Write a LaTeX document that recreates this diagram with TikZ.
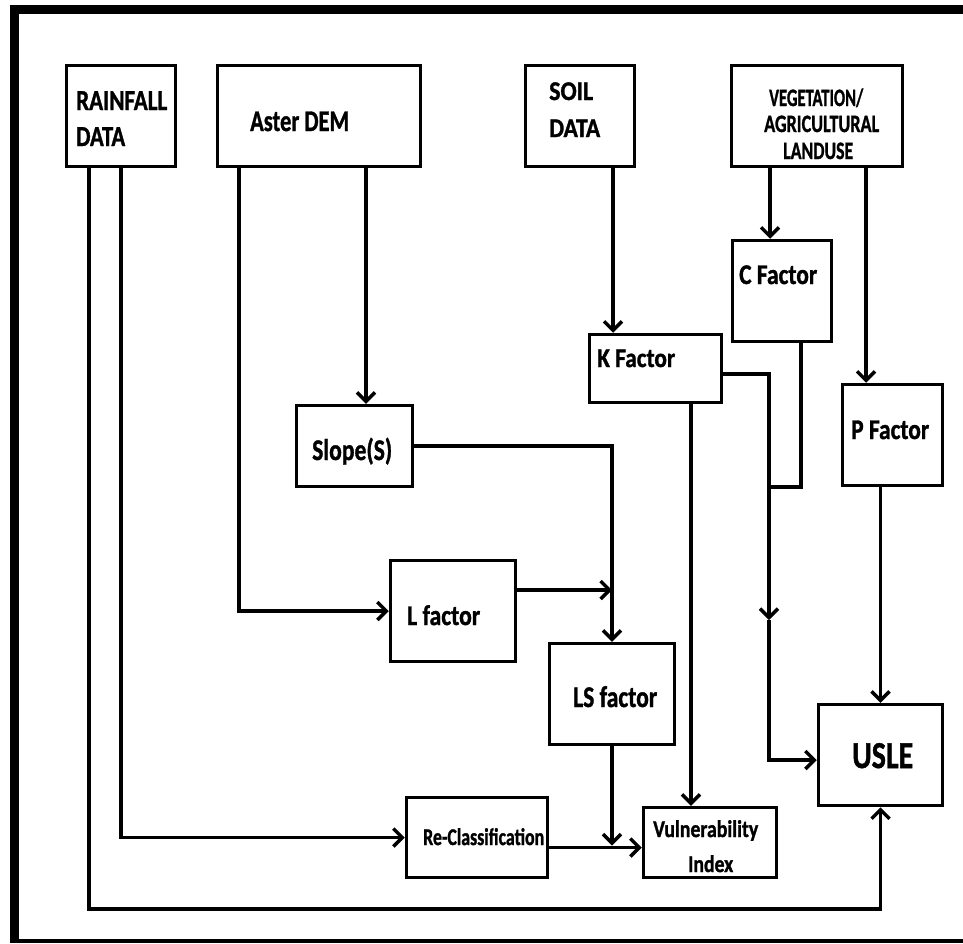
\documentclass[tikz,border=0pt]{standalone}
\usepackage{fontspec}
\setmainfont{Carlito}[BoldFeatures={FakeBold=1.3}]
\usepackage{graphicx}
\usetikzlibrary{arrows.meta}
\newcommand\tx[3]{\resizebox{#2pt}{\height}{\fontsize{#1pt}{#1pt}\selectfont\bfseries #3}}
\begin{document}
\begin{tikzpicture}[x=1pt,y=-1pt,
  box/.style={draw, line width=3.5pt, rectangle, inner sep=0pt},
  conn/.style={line width=3.5pt},
  arr/.style={line width=3.5pt, -{Straight Barb[length=9pt,width=18pt]}},
  lab/.style={inner sep=0pt, anchor=base west}]
\useasboundingbox (0,0) rectangle (963,943);
\fill[white] (0,0) rectangle (963,943);
% frame
\fill[black] (10,5) rectangle (963,14);
\fill[black] (10,5) rectangle (19,943);
\fill[black] (10,939) rectangle (963,943);
% boxes
\node[box, minimum width=109pt, minimum height=101pt] (rain) at (121,116) {};
\node[box, minimum width=203pt, minimum height=101pt] (dem) at (319,116) {};
\node[box, minimum width=109pt, minimum height=101pt] (soil) at (580,116) {};
\node[box, minimum width=171pt, minimum height=101pt] (veg) at (817,116) {};
\node[box, minimum width=99pt, minimum height=101pt] (cf) at (782,291) {};
\node[box, minimum width=132pt, minimum height=68pt] (kf) at (655.5,368.5) {};
\node[box, minimum width=100pt, minimum height=101pt] (pf) at (892.5,435) {};
\node[box, minimum width=116pt, minimum height=81pt] (slope) at (354.5,446) {};
\node[box, minimum width=125pt, minimum height=101pt] (lf) at (453,611) {};
\node[box, minimum width=125pt, minimum height=101pt] (ls) at (612,694) {};
\node[box, minimum width=124pt, minimum height=101pt] (usle) at (880.5,755) {};
\node[box, minimum width=141pt, minimum height=80pt] (rc) at (477,837.5) {};
\node[box, minimum width=133pt, minimum height=70pt] (vi) at (710,842.5) {};
% labels
\node[lab] (tRain1) at (76,110) {\tx{29}{91}{RAINFALL}};
\node[lab] (tRain2) at (76,146) {\tx{29}{49}{DATA}};
\node[lab] (tDem) at (250,131) {\tx{30}{99}{Aster DEM}};
\node[lab] (tSoil1) at (549,100) {\tx{27}{44}{SOIL}};
\node[lab] (tSoil2) at (549,137) {\tx{27}{51}{DATA}};
\node[lab] (tVeg1) at (769,106) {\tx{25}{94}{VEGETATION/}};
\node[lab] (tVeg2) at (764,132) {\tx{25}{115}{AGRICULTURAL}};
\node[lab] (tVeg3) at (783,159) {\tx{25}{70}{LANDUSE}};
\node[lab] (tC) at (739,284) {\tx{28.5}{78}{C Factor}};
\node[lab] (tK) at (597,367) {\tx{27}{78}{K Factor}};
\node[lab] (tS) at (312,460) {\tx{30}{80}{Slope(S)}};
\node[lab] (tL) at (407,625) {\tx{28.5}{73}{L factor}};
\node[lab] (tLS) at (573,707) {\tx{30}{84}{LS factor}};
\node[lab] (tP) at (851,439) {\tx{28.5}{78}{P Factor}};
\node[lab] (tU) at (852,768) {\tx{38}{61}{USLE}};
\node[lab] (tR) at (423,845) {\tx{24}{121}{Re-Classification}};
\node[lab] (tV1) at (653,837) {\tx{24}{105}{Vulnerability}};
\node[lab] (tV2) at (688,872) {\tx{24}{45}{Index}};
% helper coordinates
\coordinate (rB) at (89,909);
\coordinate (rL) at ([xshift=-32pt]rain.south);
\coordinate (dL) at ([xshift=-80pt]dem.south);
\coordinate (dR) at ([xshift=47pt]dem.south);
\coordinate (lE) at ([yshift=21pt]lf.east);
\coordinate (rcE) at ([yshift=-10pt]rc.east);
\coordinate (sB) at ([xshift=33pt]soil.south);
\coordinate (vL) at ([xshift=-47pt]veg.south);
\coordinate (vR) at ([xshift=49pt]veg.south);
\coordinate (kE) at ([yshift=-5.5pt]kf.east);
\coordinate (kB) at ([xshift=35.5pt]kf.south);
\coordinate (cB) at ([xshift=19pt]cf.south);
\coordinate (kx) at (769,487);
\coordinate (km) at (769,620);
\coordinate (uW) at ([yshift=-5pt]usle.west);
% connectors
\draw[arr] (rL) -- (rB) -| (usle.south);
\draw[arr] (rain.south) |- (rc.west);
\draw[arr] (dL) |- (lf.west);
\draw[arr] (dR) -- (dR |- slope.north);
\draw[arr] (slope.east) -| (ls.north);
\draw[arr] (lE) -- (lE -| ls.north);
\draw[arr] (rcE) -- (rcE -| vi.west);
\draw[arr, shorten >=2pt] (ls.south) -- (ls.south |- rcE);
\draw[arr] (sB) -- (sB |- kf.north);
\draw[arr] (vL) -- (vL |- cf.north);
\draw[arr] (vR) -- (vR |- pf.north);
\draw[arr] (usle.north |- pf.south) -- (usle.north);
\draw[conn] (kE) -| (kx);
\draw[conn] (cB) |- (kx);
\draw[arr] (kx) -- (km);
\draw[arr] (km) |- (uW);
\draw[arr] (kB) -- (kB |- vi.north);
\end{tikzpicture}
\end{document}
